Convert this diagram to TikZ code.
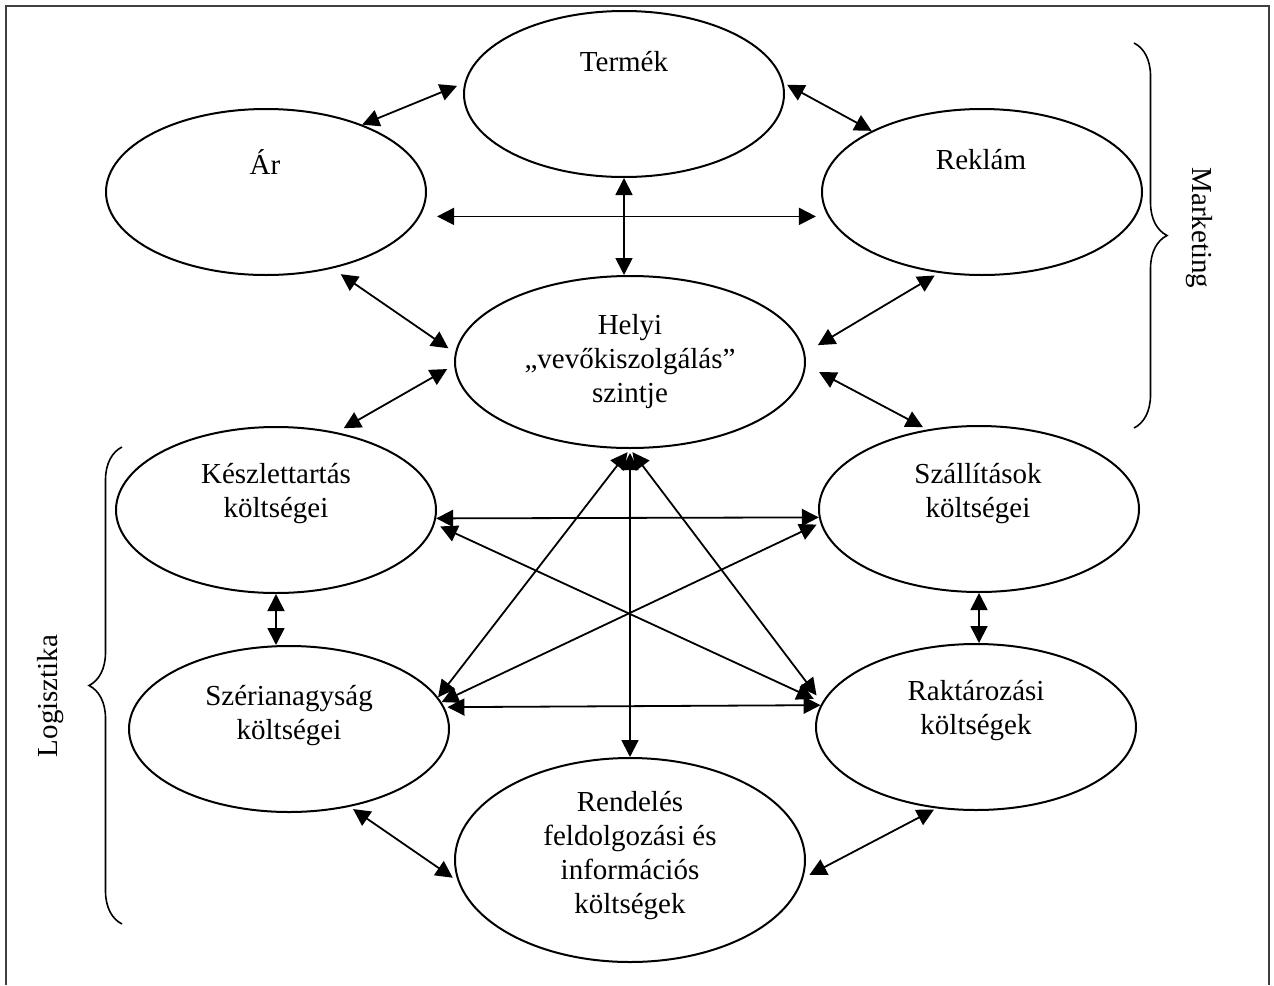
\documentclass[tikz,border=0pt]{standalone}
\usepackage{fontspec}
\setmainfont{Liberation Serif}
\usetikzlibrary{arrows.meta,shapes.geometric,decorations.pathreplacing}
\tikzset{both arrow/.style={{Triangle[length=8.5pt,width=8.5pt]}-{Triangle[length=8.5pt,width=8.5pt]},line width=0.9pt},
brace line/.style={decorate,decoration={brace,amplitude=16.5pt},line width=0.8pt}}

\begin{document}
\begin{tikzpicture}[x=0.5pt,y=-0.5pt,line width=1pt,
                    main node/.style={ellipse,draw,inner sep=0pt,minimum width=160pt,minimum height=83pt},
                    text node/.style={align=center,inner sep=0pt,font=\fontsize{14.5}{17}\selectfont}]

\useasboundingbox (0,0) rectangle (1274,985);

%DRAWING frame

 \draw[line width=1.2pt,black!75] (6,985)--(6,6)--(1269,6)--(1269,985);

%Marketing side

  \node[main node] (Termek) at (624,94) {};
  \node[main node] (Ar) at (266,192) {};
  \node[main node] (Reklam) at (982,192) {};
  \node[main node,minimum width=175pt,minimum height=86pt] (Helyi) at (630,362) {};

  \node[text node] (TermekText) at (624,62) {Termék};
  \node[text node] (ArText) at (265,162) {Ár};
  \node[text node] (ReklamText) at (981,160) {Reklám};
  \node[text node] (HelyiText) at (630,362) {Helyi\\„vevőkiszolgálás”\\szintje};

%Logistics side

  \node[main node] (Keszlet) at (276,510) {};
  \node[main node] (Szallitas) at (979,509) {};
  \node[main node] (Szeria) at (289,729) {};
  \node[main node] (Raktar) at (976,727) {};
  \node[main node,minimum width=175pt,minimum height=102pt] (Rendeles) at (630,860) {};

  \node[text node] (KeszletText) at (276,494) {Készlettartás\\költségei};
  \node[text node] (SzallitasText) at (978,494) {Szállítások\\költségei};
  \node[text node] (SzeriaText) at (289,716) {Szérianagyság\\költségei};
  \node[text node] (RaktarText) at (976,711) {Raktározási\\költségek};
  \node[text node] (RendelesText) at (630,856) {Rendelés\\feldolgozási és\\információs\\költségek};

%Arrows between the ellipses

  \draw[both arrow,shorten >=4pt] (Ar.35) -- (Termek.176);
  \draw[both arrow,shorten <=2pt] (Termek.4) -- (Reklam.151);
  \draw[both arrow] (Termek.south) -- (Termek.south |- Helyi.north);
  \draw[both arrow,shorten <=8.5pt,shorten >=6pt] (Ar.-9) -- (Reklam.189);
  \draw[both arrow,shorten <=5pt,shorten >=4pt] (Ar.-49) -- (Helyi.177);
  \draw[both arrow,shorten <=2.5pt,shorten >=7.5pt] (Reklam.242) -- (Helyi.3);
  \draw[both arrow,shorten <=4pt,shorten >=4pt] (Helyi.181) -- (Keszlet.52);
  \draw[both arrow,shorten <=7.5pt,shorten >=2.5pt] (Helyi.-1) -- (Szallitas.123);

  \draw[both arrow] (Keszlet.-3) -- (Szallitas.183);
  \draw[both arrow,shorten <=3pt,shorten >=4.5pt] (Keszlet.-5) -- (Raktar.171);
  \draw[both arrow,shorten >=2pt] (Szeria.10) -- (Szallitas.185);
  \draw[both arrow,shorten <=1.5pt] (Szeria.8.5) -- (Raktar.172.5);

  \draw[both arrow,shorten <=2pt] (Helyi.south) -- (Szeria.12);
  \draw[both arrow,shorten <=2pt,shorten >=4.5pt] (Helyi.south) -- (Raktar.171);
  \draw[both arrow,shorten <=2pt] (Helyi.south) -- (Rendeles.north);

  \draw[both arrow] (Keszlet.south) -- (Keszlet.south |- Szeria.north);
  \draw[both arrow] (Szallitas.south) -- (Szallitas.south |- Raktar.north);
  \draw[both arrow,shorten <=2pt,shorten >=3pt] (Szeria.-52) -- (Rendeles.187);
  \draw[both arrow,shorten <=1.3pt,shorten >=3.5pt] (Raktar.244) -- (Rendeles.-6);

%Braces

  \draw[brace line] (1134,43) -- (1134,428);
  \node[text node,rotate=-90] (MarketingText) at (1199,228) {Marketing};

  \draw[brace line] (122,924) -- (122,447);
  \node[text node,rotate=90] (LogisztikaText) at (51,696) {Logisztika};

\end{tikzpicture}
\end{document}
